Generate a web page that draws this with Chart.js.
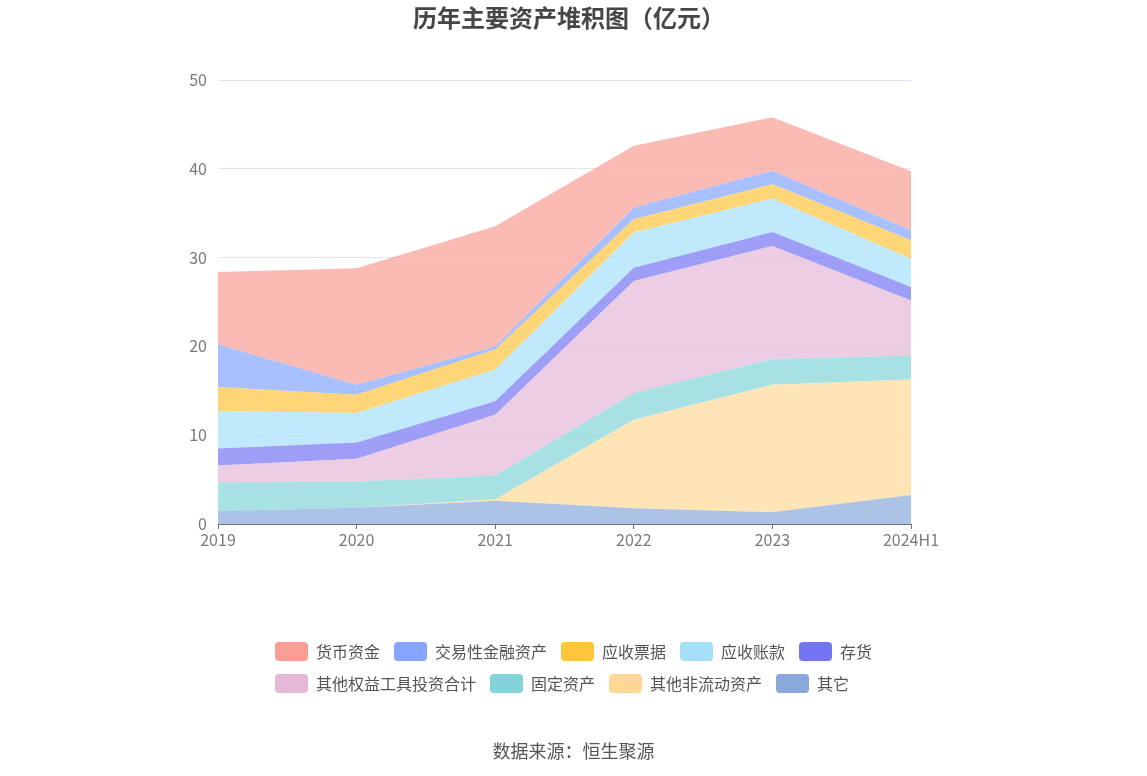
<!DOCTYPE html>
<html>
<head>
<meta charset="utf-8">
<script src="https://cdn.jsdelivr.net/npm/chart.js@4/dist/chart.umd.min.js"></script>
<style>
  body { margin: 0; background: #fff; font-family: "Noto Sans CJK SC", "Noto Sans", sans-serif; }
  #wrap { position: relative; width: 1147px; height: 776px; }
  #title { position: absolute; left: 0; width: 1138px; top: 2px; text-align: center; font-size: 24px; line-height: 30px; font-weight: bold; color: #464646; }
  #legend { position: absolute; left: 275px; top: 642px; width: 605px; display: flex; flex-wrap: wrap; row-gap: 13px; column-gap: 14px; }
  .item { display: flex; align-items: center; height: 19px; }
  .box { width: 33px; height: 19px; border-radius: 4px; margin-right: 8px; }
  .txt { font-size: 16px; color: #555; line-height: 19px; white-space: nowrap; }
  #source { position: absolute; left: 0; width: 1147px; top: 737px; text-align: center; font-size: 18px; color: #555; }
</style>
</head>
<body>
<div id="wrap">
  <canvas id="chart" width="1147" height="776"></canvas>
  <div id="title">历年主要资产堆积图（亿元）</div>
  <div id="legend"></div>
  <div id="source">数据来源：恒生聚源</div>
</div>
<script>
// 年份
const years = ['2019', '2020', '2021', '2022', '2023', '2024H1'];

// 各项资产（亿元）
const cash = [8.18, 13.10, 13.53, 6.96, 6.02, 6.65];          // 货币资金
const tradingAssets = [4.77, 1.13, 0.35, 1.32, 1.51, 1.13];   // 交易性金融资产
const notesRecv = [2.71, 2.07, 2.26, 1.50, 1.61, 2.07];       // 应收票据
const accountsRecv = [4.21, 3.31, 3.58, 3.95, 3.77, 3.20];    // 应收账款
const inventory = [1.92, 1.84, 1.51, 1.51, 1.58, 1.50];       // 存货
const otherEquity = [1.92, 2.56, 6.84, 12.61, 12.72, 6.21];   // 其他权益工具投资合计
const fixedAssets = [3.20, 2.94, 2.68, 3.01, 2.90, 2.71];     // 固定资产
const otherNonCurrent = [0, 0, 0.15, 9.97, 14.37, 12.99];     // 其他非流动资产
const others = [1.47, 1.84, 2.63, 1.77, 1.32, 3.27];          // 其它

// 图例顺序（堆叠顺序的反序）
const series = [
    { name: '货币资金', data: cash, color: [250, 158, 149] },
    { name: '交易性金融资产', data: tradingAssets, color: [133, 165, 255] },
    { name: '应收票据', data: notesRecv, color: [255, 197, 61] },
    { name: '应收账款', data: accountsRecv, color: [165, 223, 250] },
    { name: '存货', data: inventory, color: [117, 117, 242] },
    { name: '其他权益工具投资合计', data: otherEquity, color: [230, 184, 216] },
    { name: '固定资产', data: fixedAssets, color: [130, 212, 216] },
    { name: '其他非流动资产', data: otherNonCurrent, color: [255, 216, 151] },
    { name: '其它', data: others, color: [137, 169, 219] }
];

function rgba(c, a) {
    return 'rgba(' + c[0] + ',' + c[1] + ',' + c[2] + ',' + a + ')';
}

// 堆叠从底部开始
const stackOrder = series.slice().reverse();
const datasets = stackOrder.map((s, i) => ({
    label: s.name,
    data: s.data,
    fill: i === 0 ? 'origin' : '-1',
    backgroundColor: rgba(s.color, 0.7),
    borderWidth: 0,
    borderColor: 'rgba(0,0,0,0)',
    pointRadius: 0,
    pointHoverRadius: 0,
    tension: 0
}));

// 图例
const legendEl = document.getElementById('legend');
series.forEach(s => {
    const item = document.createElement('div');
    item.className = 'item';
    item.innerHTML = '<span class="box" style="background:' + rgba(s.color, 1) + '"></span><span class="txt">' + s.name + '</span>';
    legendEl.appendChild(item);
});

const axisFont = { family: '"Noto Sans CJK SC", "Noto Sans", sans-serif', size: 16 };

new Chart(document.getElementById('chart'), {
    type: 'line',
    data: { labels: years, datasets: datasets },
    options: {
        responsive: false,
        animation: false,
        layout: { padding: { left: 168, right: 236, top: 80, bottom: 222 } },
        plugins: {
            legend: { display: false },
            tooltip: { enabled: false }
        },
        scales: {
            x: {
                offset: false,
                grid: { display: true, drawOnChartArea: false, drawTicks: true, tickLength: 5, color: '#6E7079' },
                border: { color: '#6E7079', width: 1 },
                ticks: { color: '#7a7a7a', font: axisFont, padding: 1, maxRotation: 0 },
                afterFit: scale => { scale.height = 30; }
            },
            y: {
                stacked: true,
                min: 0,
                max: 50,
                ticks: { stepSize: 10, color: '#7a7a7a', font: axisFont, padding: 11 },
                grid: { color: '#E0E6F1', drawTicks: false },
                border: { display: false },
                afterFit: scale => { scale.width = 50; }
            }
        }
    }
});
</script>
</body>
</html>
